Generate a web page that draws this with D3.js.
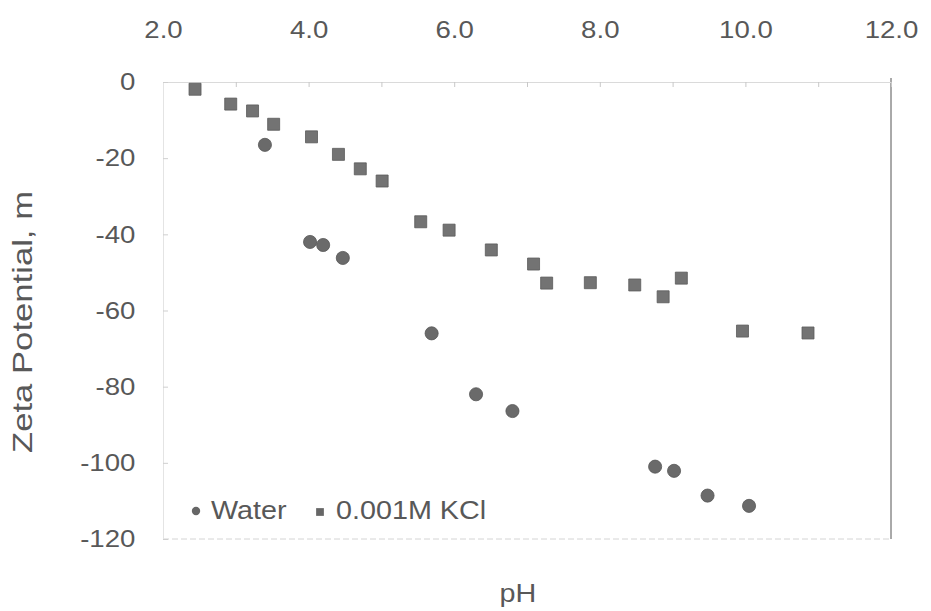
<!DOCTYPE html>
<html>
<head>
<meta charset="utf-8">
<script src="https://cdn.jsdelivr.net/npm/d3@7"></script>
<style>
    body { margin: 0; background: #fff; }
    svg { display: block; font-family: "Liberation Sans", Arial, sans-serif; }
</style>
</head>
<body>
<div id="chart"></div>
<script>
// pH values and zeta potentials
var kclPh = [2.44, 2.93, 3.23, 3.52, 4.04, 4.41, 4.71, 5.01, 5.54, 5.93, 6.51, 7.09, 7.27, 7.87, 8.48, 8.87, 9.12, 9.96, 10.86];
var kclZeta = [-1.9, -5.8, -7.6, -11.1, -14.4, -19.0, -22.8, -26.0, -36.7, -38.9, -44.1, -47.8, -52.8, -52.7, -53.3, -56.4, -51.5, -65.4, -65.9];
var waterPh = [3.40, 4.02, 4.20, 4.47, 5.69, 6.30, 6.80, 8.76, 9.02, 9.48, 10.05];
var waterZeta = [-16.5, -42.0, -42.8, -46.2, -66.0, -82.0, -86.4, -101.0, -102.1, -108.6, -111.3];
var xTickLabels = [2, 4, 6, 8, 10, 12];
var xMinorTicks = [2, 3, 4, 5, 6, 7, 8, 9, 10, 11, 12];
var yTickLabels = [0, -20, -40, -60, -80, -100, -120];
var seriesNames = ["Water", "0.001M KCl"];

var w = 931,
    h = 611;

var svg = d3.select("#chart").append("svg")
    .attr("width", w)
    .attr("height", h);

var x = d3.scaleLinear().domain([2, 12]).range([163, 891]);
var y = d3.scaleLinear().domain([0, -120]).range([82, 539]);

var ink = "#585858";
var stretch = "scale(1.15,1)";

// frame: faint top/left/bottom, darker right edge
svg.append("line")
    .attr("x1", x(2)).attr("x2", x(12))
    .attr("y1", y(-120)).attr("y2", y(-120))
    .attr("stroke", "#d4d4d4").attr("stroke-dasharray", "6,3");
svg.append("line")
    .attr("x1", x(12)).attr("x2", x(12))
    .attr("y1", y(0) - 4).attr("y2", y(-120))
    .attr("stroke", "#555");

var minorAxis = svg.append("g")
    .attr("transform", "translate(0," + y(0) + ")")
    .call(d3.axisTop(x).tickValues(xMinorTicks).tickSizeInner(-5).tickSizeOuter(0).tickFormat(""));
minorAxis.select(".domain").attr("stroke", "#dadada");
minorAxis.selectAll(".tick line").attr("stroke", "#c8c8c8");

var topAxis = svg.append("g")
    .attr("transform", "translate(0," + y(0) + ")")
    .call(d3.axisTop(x).tickValues(xTickLabels).tickSize(0).tickPadding(44).tickFormat(d3.format(".1f")));
topAxis.select(".domain").remove();
topAxis.selectAll("text")
    .attr("font-size", 24)
    .attr("fill", ink)
    .attr("transform", stretch);

// plain hyphen for negatives, as in the original
var leftAxis = svg.append("g")
    .attr("transform", "translate(" + x(2) + ",0)")
    .call(d3.axisLeft(y).tickValues(yTickLabels).tickSizeInner(-5).tickSizeOuter(0).tickPadding(24)
        .tickFormat(function (d) { return String(d); }));
leftAxis.select(".domain").attr("stroke", "#e4e4e4");
leftAxis.selectAll(".tick line").attr("stroke", "#cfcfcf");
leftAxis.selectAll("text")
    .attr("font-size", 24)
    .attr("fill", ink)
    .attr("transform", stretch);

// markers
var square = d3.symbol().type(d3.symbolSquare).size(144);
var circle = d3.symbol().type(d3.symbolCircle).size(135);

svg.append("g").selectAll("path")
    .data(d3.range(kclPh.length))
    .join("path")
    .attr("d", square)
    .attr("transform", function (i) { return "translate(" + x(kclPh[i]) + "," + y(kclZeta[i]) + ")"; })
    .attr("fill", "#737373")
    .attr("stroke", "#5a5a5a")
    .attr("stroke-width", 0.8);

svg.append("g").selectAll("path")
    .data(d3.range(waterPh.length))
    .join("path")
    .attr("d", circle)
    .attr("transform", function (i) { return "translate(" + x(waterPh[i]) + "," + y(waterZeta[i]) + ")"; })
    .attr("fill", "#6a6a6a")
    .attr("stroke", "#555")
    .attr("stroke-width", 0.8);

// legend
var legend = svg.append("g");
legend.append("path")
    .attr("d", d3.symbol().type(d3.symbolCircle).size(55))
    .attr("transform", "translate(196,511)")
    .attr("fill", "#666");
legend.append("text")
    .attr("transform", "translate(211,519) " + stretch)
    .attr("font-size", 25)
    .attr("fill", ink)
    .text(seriesNames[0]);
legend.append("path")
    .attr("d", d3.symbol().type(d3.symbolSquare).size(60))
    .attr("transform", "translate(320,512)")
    .attr("fill", "#666");
legend.append("text")
    .attr("transform", "translate(336,519) " + stretch)
    .attr("font-size", 25)
    .attr("fill", ink)
    .text(seriesNames[1]);

// axis titles
svg.append("text")
    .attr("transform", "translate(518,602) " + stretch)
    .attr("text-anchor", "middle")
    .attr("font-size", 25)
    .attr("fill", ink)
    .text("pH");

svg.append("text")
    .attr("transform", "translate(32,322) rotate(-90)")
    .attr("text-anchor", "middle")
    .attr("font-size", 28)
    .attr("textLength", 262)
    .attr("lengthAdjust", "spacingAndGlyphs")
    .attr("fill", ink)
    .text("Zeta Potential, m");
</script>
</body>
</html>
